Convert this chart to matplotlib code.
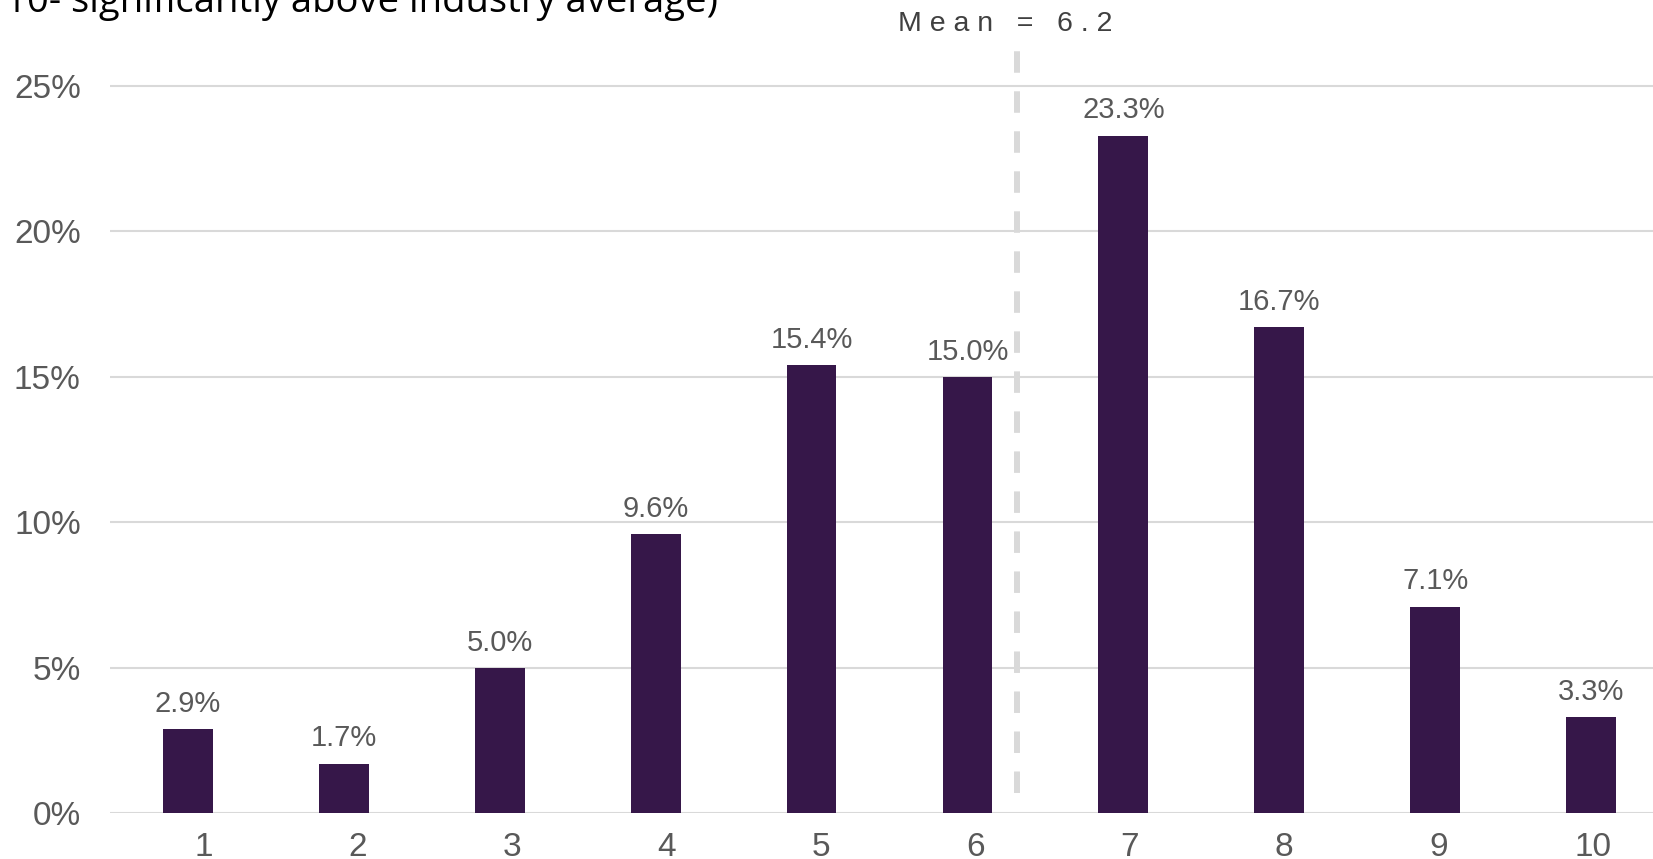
import matplotlib
matplotlib.use("Agg")
import matplotlib.pyplot as plt
from matplotlib import font_manager

# data
scores = [1, 2, 3, 4, 5, 6, 7, 8, 9, 10]
share = [2.9, 1.7, 5.0, 9.6, 15.4, 15.0, 23.3, 16.7, 7.1, 3.3]
y_ticks = [0, 5, 10, 15, 20, 25]
mean_label = "M e a n   =   6 . 2"
mean_pos = 6.32
title = "10- significantly above industry average)"

names = {f.name for f in font_manager.fontManager.ttflist}
base_font = "Liberation Sans" if "Liberation Sans" in names else "DejaVu Sans"
title_font = "Open Sans" if "Open Sans" in names else base_font
plt.rcParams["font.family"] = base_font

W, H = 1653, 859
fig = plt.figure(figsize=(W / 100, H / 100), dpi=100)
rect = [110 / W, (H - 813) / H, 1559 / W, 813 / H]
ax = fig.add_axes(rect)

bar_color = "#361749"
grey_text = "#595959"

ax.bar(scores, share, width=0.32, color=bar_color, zorder=3)
for x, v in zip(scores, share):
    ax.annotate(f"{v:.1f}%", (x, v), xytext=(0, 8), textcoords="offset points",
                ha="center", va="bottom", fontsize=21, color=grey_text)

ax.set_xlim(0.5, 10.5)
ax.set_ylim(0, 27.96)
ax.set_yticks(y_ticks)
ax.set_yticklabels([f"{t}%" for t in y_ticks])
ax.set_xticks([])
ax.tick_params(axis="both", length=0, labelsize=24, colors=grey_text)
ax.tick_params(axis="y", pad=21)
ax.grid(axis="y", color="#d9d9d9", linewidth=1.5, zorder=0)
for s in ax.spines.values():
    s.set_visible(False)

# category labels sit on a slightly tighter spacing than the bars
lab = fig.add_axes(rect, frameon=False)
lab.set_xlim(0.394, 10.494)
lab.set_ylim(0, 1)
lab.set_xticks(scores)
lab.set_xticklabels([str(s) for s in scores])
lab.set_yticks([])
lab.tick_params(axis="x", length=0, labelsize=24, colors=grey_text, pad=14)
lab.patch.set_visible(False)

# mean line
ax.plot([mean_pos, mean_pos], [0.69, 26.4], color="#d9d9d9", linewidth=4.3,
        linestyle=(0, (3.6, 3.1)), solid_capstyle="butt", dash_capstyle="butt", zorder=2)
ax.text(6.24, 26.9, mean_label, ha="center", va="baseline", fontsize=20.5, color="#404040")

fig.text(5 / W, 1 - 12 / H, title, ha="left", va="baseline", fontsize=27.5,
         color="black", family=title_font)

fig.savefig("out.png", dpi=100)
